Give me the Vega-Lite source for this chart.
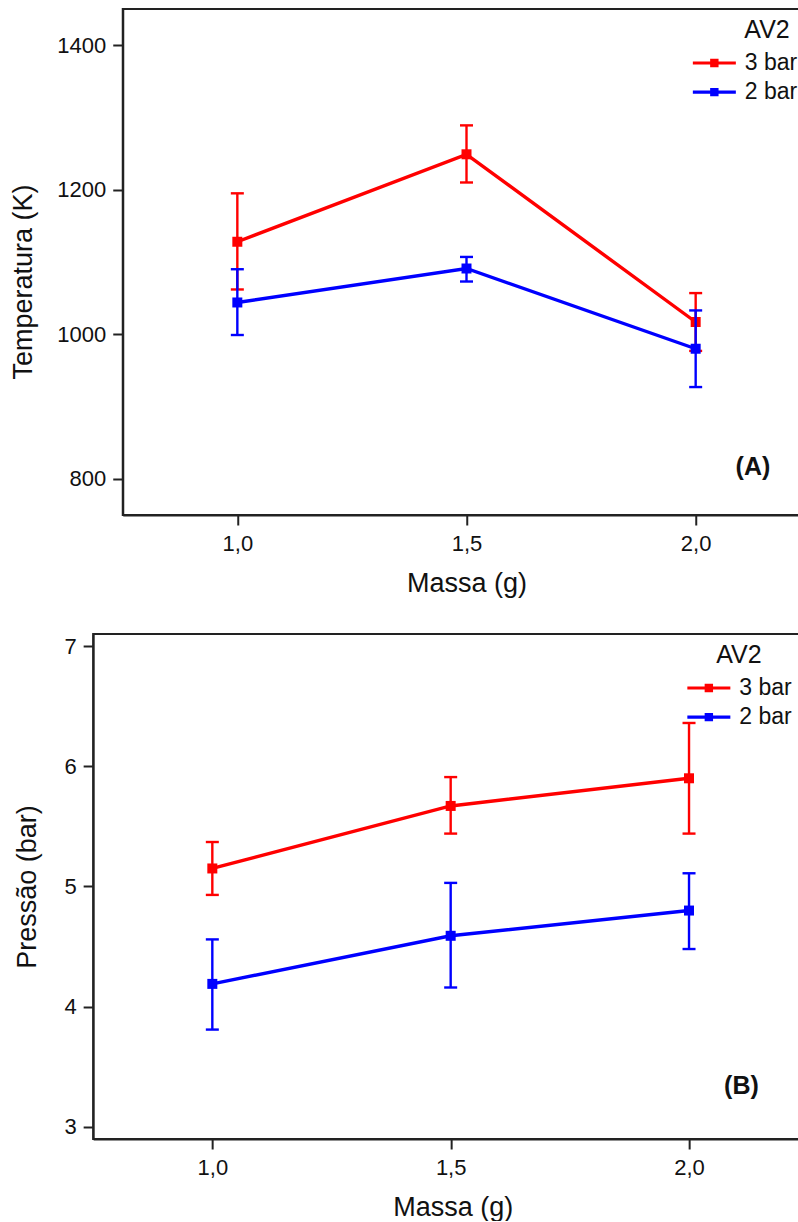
{
  "$schema": "https://vega.github.io/schema/vega-lite/v6.json",
  "padding": {"left": 8, "top": 8, "right": 0, "bottom": 0},
  "background": "white",
  "config": {
    "font": "Liberation Sans",
    "view": {"stroke": "#222", "strokeWidth": 2},
    "axis": {
      "grid": false,
      "domainColor": "#222",
      "domainWidth": 2,
      "tickColor": "#222",
      "tickWidth": 2,
      "tickSize": 10,
      "labelFont": "Liberation Sans",
      "labelFontSize": 22,
      "labelColor": "#111",
      "titleFont": "Liberation Sans",
      "titleFontSize": 27,
      "titleFontWeight": "normal",
      "titleColor": "#111"
    },
    "legend": {
      "titleFont": "Liberation Sans",
      "titleFontSize": 25,
      "titleFontWeight": "normal",
      "titleColor": "#111",
      "labelFont": "Liberation Sans",
      "labelFontSize": 23,
      "labelColor": "#111",
      "labelOffset": 19,
      "labelLimit": 300,
      "padding": 0,
      "symbolType": "M-2.15,-0.16H2.15V0.16H-2.15Z M-0.42,-0.42H0.42V0.42H-0.42Z",
      "symbolSize": 400,
      "symbolOffset": 11.5,
      "symbolStrokeWidth": 0,
      "symbolOpacity": 1,
      "rowPadding": 5.1,
      "titlePadding": 8.5
    }
  },
  "datasets": {
    "temp": [
      {"massa": 1.0, "grupo": "3 bar", "media": 1128, "inf": 1062, "sup": 1195},
      {"massa": 1.5, "grupo": "3 bar", "media": 1249, "inf": 1210, "sup": 1289},
      {"massa": 2.0, "grupo": "3 bar", "media": 1017, "inf": 977, "sup": 1057},
      {"massa": 1.0, "grupo": "2 bar", "media": 1044, "inf": 999, "sup": 1090},
      {"massa": 1.5, "grupo": "2 bar", "media": 1091, "inf": 1073, "sup": 1107},
      {"massa": 2.0, "grupo": "2 bar", "media": 980, "inf": 927, "sup": 1033}
    ],
    "press": [
      {"massa": 1.0, "grupo": "3 bar", "media": 5.15, "inf": 4.93, "sup": 5.37},
      {"massa": 1.5, "grupo": "3 bar", "media": 5.67, "inf": 5.44, "sup": 5.91},
      {"massa": 2.0, "grupo": "3 bar", "media": 5.90, "inf": 5.44, "sup": 6.36},
      {"massa": 1.0, "grupo": "2 bar", "media": 4.19, "inf": 3.81, "sup": 4.56},
      {"massa": 1.5, "grupo": "2 bar", "media": 4.59, "inf": 4.16, "sup": 5.03},
      {"massa": 2.0, "grupo": "2 bar", "media": 4.80, "inf": 4.48, "sup": 5.11}
    ]
  },
  "spacing": 36,
  "center": true,
  "resolve": {"scale": {"color": "independent"}, "legend": {"color": "independent"}},
  "vconcat": [
    {
      "width": 687.5,
      "height": 506,
      "data": {"name": "temp"},
      "encoding": {
        "x": {"field": "massa", "type": "quantitative", "title": "Massa (g)",
          "scale": {"domain": [0.75, 2.25], "nice": false, "zero": false},
          "axis": {"values": [1, 1.5, 2], "labelExpr": "replace(format(datum.value, '.1f'), '.', ',')", "labelPadding": 8, "titlePadding": 16}}
      },
      "layer": [
        {
          "transform": [{"filter": "datum.grupo === '3 bar'"}],
          "encoding": {"color": {"field": "grupo", "type": "nominal", "scale": {"domain": ["3 bar", "2 bar"], "range": ["#ff0000", "#0000ff"]},
            "legend": {"title": "AV2", "orient": "none", "legendX": 568.6, "legendY": 9, "titleAnchor": "middle", "titleAlign": "left"}}},
          "layer": [
            {"mark": {"type": "line", "strokeWidth": 3.4},
             "encoding": {"y": {"field": "media", "type": "quantitative", "title": "Temperatura (K)",
               "scale": {"domain": [750, 1450], "nice": false, "zero": false},
               "axis": {"values": [800, 1000, 1200, 1400], "format": "d", "labelPadding": 7, "titlePadding": 19.4, "titleY": 272.5}}}},
            {"mark": {"type": "rule", "strokeWidth": 2.4},
             "encoding": {"y": {"field": "inf", "type": "quantitative", "title": "Temperatura (K)"}, "y2": {"field": "sup"}}},
            {"mark": {"type": "tick", "orient": "horizontal", "size": 13, "thickness": 2.4, "opacity": 1},
             "encoding": {"y": {"field": "inf", "type": "quantitative", "title": "Temperatura (K)"}}},
            {"mark": {"type": "tick", "orient": "horizontal", "size": 13, "thickness": 2.4, "opacity": 1},
             "encoding": {"y": {"field": "sup", "type": "quantitative", "title": "Temperatura (K)"}}},
            {"mark": {"type": "point", "shape": "square", "filled": true, "size": 100, "opacity": 1},
             "encoding": {"y": {"field": "media", "type": "quantitative", "title": "Temperatura (K)"}}}
          ]
        },
        {
          "transform": [{"filter": "datum.grupo === '2 bar'"}],
          "encoding": {"color": {"field": "grupo", "type": "nominal", "scale": {"domain": ["3 bar", "2 bar"], "range": ["#ff0000", "#0000ff"]},
            "legend": {"title": "AV2", "orient": "none", "legendX": 568.6, "legendY": 9, "titleAnchor": "middle", "titleAlign": "left"}}},
          "layer": [
            {"mark": {"type": "line", "strokeWidth": 3.4},
             "encoding": {"y": {"field": "media", "type": "quantitative", "title": "Temperatura (K)"}}},
            {"mark": {"type": "rule", "strokeWidth": 2.4},
             "encoding": {"y": {"field": "inf", "type": "quantitative", "title": "Temperatura (K)"}, "y2": {"field": "sup"}}},
            {"mark": {"type": "tick", "orient": "horizontal", "size": 13, "thickness": 2.4, "opacity": 1},
             "encoding": {"y": {"field": "inf", "type": "quantitative", "title": "Temperatura (K)"}}},
            {"mark": {"type": "tick", "orient": "horizontal", "size": 13, "thickness": 2.4, "opacity": 1},
             "encoding": {"y": {"field": "sup", "type": "quantitative", "title": "Temperatura (K)"}}},
            {"mark": {"type": "point", "shape": "square", "filled": true, "size": 100, "opacity": 1},
             "encoding": {"y": {"field": "media", "type": "quantitative", "title": "Temperatura (K)"}}}
          ]
        },
        {
          "transform": [{"filter": "datum.grupo === '3 bar' && datum.massa === 2"}],
          "mark": {"type": "text", "fontSize": 25, "fontWeight": "bold", "font": "Liberation Sans", "color": "#111", "align": "center", "baseline": "middle", "text": "(A)"},
          "encoding": {
            "x": {"datum": 2.125, "type": "quantitative"},
            "y": {"datum": 817, "type": "quantitative"}
          }
        }
      ]
    },
    {
      "width": 746.7,
      "height": 505,
      "data": {"name": "press"},
      "encoding": {
        "x": {"field": "massa", "type": "quantitative", "title": "Massa (g)",
          "scale": {"domain": [0.75, 2.3164], "nice": false, "zero": false},
          "axis": {"values": [1, 1.5, 2], "labelExpr": "replace(format(datum.value, '.1f'), '.', ',')", "labelPadding": 8, "titlePadding": 16, "titleX": 359.7}}
      },
      "layer": [
        {
          "transform": [{"filter": "datum.grupo === '3 bar'"}],
          "encoding": {"color": {"field": "grupo", "type": "nominal", "scale": {"domain": ["3 bar", "2 bar"], "range": ["#ff0000", "#0000ff"]},
            "legend": {"title": "AV2", "orient": "none", "legendX": 592.7, "legendY": 9, "titleAnchor": "middle", "titleAlign": "center"}}},
          "layer": [
            {"mark": {"type": "line", "strokeWidth": 3.4},
             "encoding": {"y": {"field": "media", "type": "quantitative", "title": "Pressão (bar)",
               "scale": {"domain": [2.9, 7.1], "nice": false, "zero": false},
               "axis": {"values": [3, 4, 5, 6, 7], "format": "d", "labelPadding": 7, "titlePadding": 22.8}}}},
            {"mark": {"type": "rule", "strokeWidth": 2.4},
             "encoding": {"y": {"field": "inf", "type": "quantitative", "title": "Pressão (bar)"}, "y2": {"field": "sup"}}},
            {"mark": {"type": "tick", "orient": "horizontal", "size": 13, "thickness": 2.4, "opacity": 1},
             "encoding": {"y": {"field": "inf", "type": "quantitative", "title": "Pressão (bar)"}}},
            {"mark": {"type": "tick", "orient": "horizontal", "size": 13, "thickness": 2.4, "opacity": 1},
             "encoding": {"y": {"field": "sup", "type": "quantitative", "title": "Pressão (bar)"}}},
            {"mark": {"type": "point", "shape": "square", "filled": true, "size": 100, "opacity": 1},
             "encoding": {"y": {"field": "media", "type": "quantitative", "title": "Pressão (bar)"}}}
          ]
        },
        {
          "transform": [{"filter": "datum.grupo === '2 bar'"}],
          "encoding": {"color": {"field": "grupo", "type": "nominal", "scale": {"domain": ["3 bar", "2 bar"], "range": ["#ff0000", "#0000ff"]},
            "legend": {"title": "AV2", "orient": "none", "legendX": 592.7, "legendY": 9, "titleAnchor": "middle", "titleAlign": "center"}}},
          "layer": [
            {"mark": {"type": "line", "strokeWidth": 3.4},
             "encoding": {"y": {"field": "media", "type": "quantitative", "title": "Pressão (bar)"}}},
            {"mark": {"type": "rule", "strokeWidth": 2.4},
             "encoding": {"y": {"field": "inf", "type": "quantitative", "title": "Pressão (bar)"}, "y2": {"field": "sup"}}},
            {"mark": {"type": "tick", "orient": "horizontal", "size": 13, "thickness": 2.4, "opacity": 1},
             "encoding": {"y": {"field": "inf", "type": "quantitative", "title": "Pressão (bar)"}}},
            {"mark": {"type": "tick", "orient": "horizontal", "size": 13, "thickness": 2.4, "opacity": 1},
             "encoding": {"y": {"field": "sup", "type": "quantitative", "title": "Pressão (bar)"}}},
            {"mark": {"type": "point", "shape": "square", "filled": true, "size": 100, "opacity": 1},
             "encoding": {"y": {"field": "media", "type": "quantitative", "title": "Pressão (bar)"}}}
          ]
        },
        {
          "transform": [{"filter": "datum.grupo === '3 bar' && datum.massa === 2"}],
          "mark": {"type": "text", "fontSize": 25, "fontWeight": "bold", "font": "Liberation Sans", "color": "#111", "align": "center", "baseline": "middle", "text": "(B)"},
          "encoding": {
            "x": {"datum": 2.11, "type": "quantitative"},
            "y": {"datum": 3.343, "type": "quantitative"}
          }
        }
      ]
    }
  ]
}
